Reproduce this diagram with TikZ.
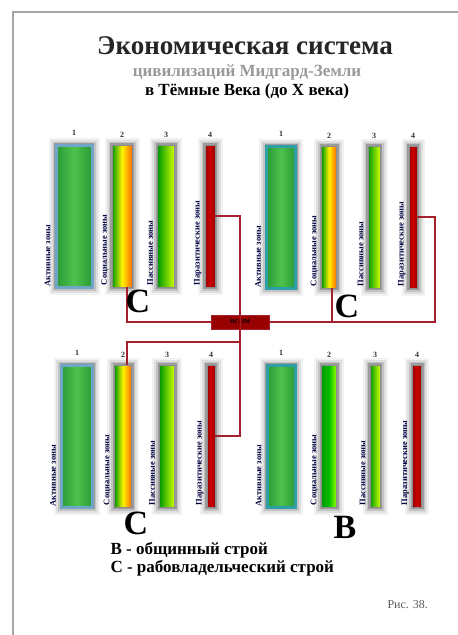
\documentclass[tikz,border=0pt]{standalone}
\usepackage{fontspec}
\setmainfont{Liberation Serif}
\definecolor{linkred}{HTML}{A3202C}
\definecolor{edgeblue}{HTML}{6FA6C8}
\definecolor{edgeteal}{HTML}{2E9FA8}
\definecolor{leafdark}{HTML}{2A9A36}
\definecolor{leaflight}{HTML}{4EC24C}
\begin{document}
\begin{tikzpicture}[x=1pt,y=-1pt,
  zone/.style={inner sep=0pt,minimum height=142pt,
    preaction={draw=black,opacity=.05,line width=15pt},
    preaction={draw=black,opacity=.08,line width=11pt},
    preaction={draw=black,opacity=.12,line width=7pt},
    preaction={draw=black,opacity=.2,line width=4pt}},
  active/.style={zone,minimum width=#1,draw=edgeblue,line width=3pt,
    left color=leafdark,right color=leafdark,middle color=leaflight},
  social/.style={zone,minimum width=#1,draw=black!45,line width=.6pt,
    left color=green!60!black,right color=orange!85!red,middle color=yellow!90!orange},
  passive/.style={zone,minimum width=#1,draw=black!45,line width=.6pt,
    left color=green!60!black,right color=yellow!80!green},
  parasite/.style={zone,minimum width=#1,draw=black!45,line width=.6pt,
    left color=red!60!black,right color=red!60!black,middle color=red!80!black},
  zonelabel/.style={rotate=90,anchor=west,inner sep=0pt,text=blue!25!black,
    font=\bfseries\fontsize{8.5}{8.5}\selectfont},
  num/.style={font=\bfseries\fontsize{8}{8}\selectfont,text=black!80},
  regime/.style={font=\bfseries\fontsize{34}{34}\selectfont},
  link/.style={draw=linkred,line width=2.2pt}
]
\useasboundingbox[fill=white] (0,0) rectangle (458,635);
\draw[gray!70,line width=2.5pt] (13,635) -- (13,12) -- (458,12);

% heading
\node[text=black!85,font=\bfseries\fontsize{27}{27}\selectfont] (title) at (245,46) {Экономическая система};
\node[text=black!40,font=\bfseries\fontsize{17}{17}\selectfont] (subtitle) at (247,72) {цивилизаций Мидгард-Земли};
\node[font=\bfseries\fontsize{17}{17}\selectfont] (period) at (247,91) {в Тёмные Века (до X века)};

% top left group
\node[active=36pt] (tl1) at (74,216) {};
\node[social=20pt] (tl2) at (122,216) {};
\node[passive=17pt] (tl3) at (166,216) {};
\node[parasite=10pt] (tl4) at (210,216) {};
% top right group
\node[active=29pt,draw=edgeteal] (tr1) at (281,217) {};
\node[social=15pt] (tr2) at (329,217) {};
\node[passive=12pt] (tr3) at (374,217) {};
\node[parasite=8pt] (tr4) at (413,217) {};
% bottom left group
\node[active=31pt] (bl1) at (77,436) {};
\node[social=17pt] (bl2) at (123,436) {};
\node[passive=15pt] (bl3) at (167,436) {};
\node[parasite=8pt] (bl4) at (211,436) {};
% bottom right group
\node[active=28pt,draw=edgeteal] (br1) at (281,436) {};
\node[social=15pt,right color=yellow!60!green,middle color=green!75!black] (br2) at (329,436) {};
\node[passive=10pt] (br3) at (375,436) {};
\node[parasite=9pt] (br4) at (417,436) {};

% numbers and labels
\foreach \g in {tl,tr,bl,br}{
  \foreach \i/\txt in {1/Активные зоны,2/Социальные зоны,3/Пассивные зоны,4/Паразитические зоны}{
    \node[num,above=4pt] at (\g\i.north) {\i};
    \node[zonelabel] at ([xshift=-7pt,yshift=2pt]\g\i.south west) {\txt};
  }
}

% connections
\node[fill=red!60!black,draw=linkred,minimum width=58pt,minimum height=14pt,inner sep=0pt,
  font=\bfseries\fontsize{6}{6}\selectfont] (hub) at (240,322) {ИС-ЗМ};
\coordinate (lowjoin) at (240,342);
\draw[link] (tl4.east) -| (hub.north);
\draw[link] (hub.south) |- (bl4.east);
\draw[link] (tr4.east) -- ++(18,0) |- (hub.east);
\draw[link] ([xshift=5pt]tl2.south) |- (hub.west);
\draw[link] ([xshift=3pt]tr2.south) -- ([xshift=3pt]tr2.south |- hub.east);
\draw[link] ([xshift=4pt]bl2.north) |- (lowjoin);
\draw[linkred,line width=1pt] (hub.north) -- (hub.south);

% regimes
\node[regime] (tlr) at (138,301) {С};
\node[regime] (trr) at (347,306) {С};
\node[regime] (blr) at (136,523) {С};
\node[regime] (brr) at (345,527) {В};

% legend
\node[anchor=west,font=\bfseries\fontsize{17}{18}\selectfont,align=left] (legend) at (107,559)
  {В - общинный строй\\С - рабовладельческий строй};
\node[anchor=west,text=black!65,font=\fontsize{12}{12}\selectfont] (fig) at (384,605) {Рис. 38.};
\end{tikzpicture}
\end{document}
